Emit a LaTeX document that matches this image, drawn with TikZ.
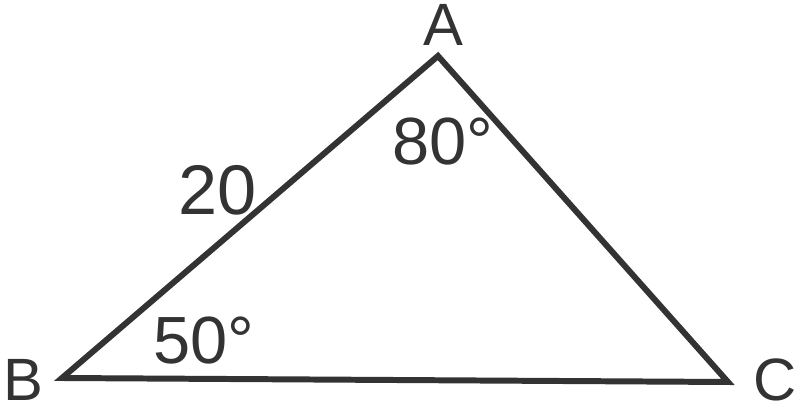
\documentclass[tikz,border=0pt]{standalone}
\usepackage{fontspec}
\setmainfont{Liberation Sans}
\definecolor{edge}{HTML}{333333}
\begin{document}
\begin{tikzpicture}[every node/.style={text=edge,inner sep=0pt,anchor=base}]
		\useasboundingbox (0,0) rectangle (16,8.2);
		\coordinate (a) at (8.76,7.08);
		\coordinate (b) at (1.24,0.64);
		\coordinate (c) at (14.56,0.56);
		\draw[edge, line width=3.4pt, line join=miter] (a) -- (b) -- (c) -- cycle;
		\node (la) at (8.86,7.28) {\fontsize{34}{34}\selectfont A};
		\node (lb) at (0.46,0.2) {\fontsize{34}{34}\selectfont B};
		\node (lc) at (15.5,0.2) {\fontsize{34}{34}\selectfont C};
		\node (side) at (4.35,3.9) {\fontsize{40}{40}\selectfont 20};
		\node (anga) at (8.85,4.9) {\fontsize{38}{38}\selectfont 80°};
		\node (angb) at (4.07,0.94) {\fontsize{38}{38}\selectfont 50°};
	\end{tikzpicture}
\end{document}
